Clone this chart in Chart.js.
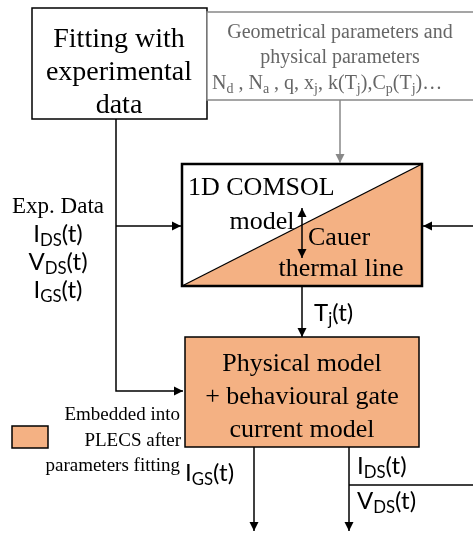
<!DOCTYPE html>
<html><head><meta charset="utf-8">
<script src="https://cdn.jsdelivr.net/npm/chart.js@4.4.1/dist/chart.umd.min.js"></script>
<style>html,body{margin:0;padding:0;background:#fff}#wrap{width:473px;height:533px}</style>
</head><body><div id="wrap"><canvas id="diagram"></canvas></div>
<script>
const ORANGE = "#F4B183";
// boxes: [x1, y1, x2, y2, fill, stroke]
const boxes = [
  [32, 8, 207, 119, "#fff", "#000"],
  [207, 12, 476, 100, "#fff", "#888"],
  [185, 337, 419, 447, ORANGE, "#000"],
  [12, 426, 48, 448, ORANGE, "#000"]
];
// arrows: list of points, last one gets the head; colour
const arrows = [
  [[340, 100], [340, 163], "#888"],
  [[473, 226], [423, 226], "#000"],
  [[116, 119], [116, 391], [183, 391], "#000"],
  [[116, 226], [181, 226], "#000"],
  [[302, 287], [302, 337], "#000"],
  [[254, 447], [254, 531], "#000"],
  [[349, 447], [349, 531], "#000"]
];
// texts: [x, y, segments, size, align, colour, font]   segment "_x" = subscript
const S = "serif", N = "sans";
const texts = [
  [119, 37, ["Fitting with"], 28, "center", "#000", S],
  [119, 70, ["experimental"], 28, "center", "#000", S],
  [119, 103, ["data"], 28, "center", "#000", S],
  [340, 31, ["Geometrical parameters and"], 20, "center", "#666", S],
  [340, 56, ["physical parameters"], 20, "center", "#666", S],
  [212, 82, ["N", "_d", " , N", "_a", " , q, x", "_j", ", k(T", "_j", "),C", "_p", "(T", "_j", ")…"], 20, "left", "#666", S],
  [188, 186, ["1D COMSOL"], 26, "left", "#000", S],
  [262, 220, ["model"], 26, "center", "#000", S],
  [308, 236, ["Cauer"], 26, "left", "#000", S],
  [341, 267, ["thermal line"], 26, "center", "#000", S],
  [58, 205, ["Exp. Data"], 23, "center", "#000", S],
  [58, 234, ["I", "_DS", "(t)"], 24, "center", "#000", N],
  [58, 262, ["V", "_DS", "(t)"], 24, "center", "#000", N],
  [58, 290, ["I", "_GS", "(t)"], 24, "center", "#000", N],
  [314, 313, ["T", "_j", "(t)"], 24, "left", "#000", N],
  [302, 362, ["Physical model"], 26, "center", "#000", S],
  [302, 395, ["+ behavioural gate"], 26, "center", "#000", S],
  [302, 428, ["current model"], 26, "center", "#000", S],
  [180, 413, ["Embedded into"], 19, "right", "#000", S],
  [181, 439, ["PLECS after"], 19, "right", "#000", S],
  [180, 464, ["parameters fitting"], 19, "right", "#000", S],
  [185, 473, ["I", "_GS", "(t)"], 24, "left", "#000", N],
  [357, 466, ["I", "_DS", "(t)"], 24, "left", "#000", N],
  [357, 501, ["V", "_DS", "(t)"], 24, "left", "#000", N]
];
const comsol = [182, 164, 422, 286];
const outLine = [[349, 485], [473, 485]];
const dblArrow = [302, 208, 258];

const FONTS = { serif: "'Liberation Serif','DejaVu Serif',serif", sans: "Lato,'Open Sans',sans-serif" };
function segW(ctx, segs, size, f) {
  let w = 0;
  for (const s of segs) {
    const sub = s[0] === "_";
    ctx.font = (sub ? size * 0.7 : size) + "px " + f;
    w += ctx.measureText(sub ? s.slice(1) : s).width;
  }
  return w;
}
const diagram = {
  id: "diagram",
  afterDraw(chart) {
    const ctx = chart.ctx, X = v => chart.scales.x.getPixelForValue(v), Y = v => chart.scales.y.getPixelForValue(v);
    ctx.save();
    const [a, b, c, d] = comsol;
    ctx.fillStyle = ORANGE;
    ctx.beginPath(); ctx.moveTo(X(a), Y(d)); ctx.lineTo(X(c), Y(b)); ctx.lineTo(X(c), Y(d)); ctx.closePath(); ctx.fill();
    ctx.strokeStyle = "#000"; ctx.lineWidth = 2.5;
    ctx.strokeRect(X(a), Y(b), X(c) - X(a), Y(d) - Y(b));
    ctx.lineWidth = 1.3;
    ctx.beginPath(); ctx.moveTo(X(a), Y(d)); ctx.lineTo(X(c), Y(b)); ctx.stroke();
    for (const [x1, y1, x2, y2, f, s] of boxes) {
      ctx.fillStyle = f; ctx.strokeStyle = s; ctx.lineWidth = 1.5;
      ctx.fillRect(X(x1), Y(y1), X(x2) - X(x1), Y(y2) - Y(y1));
      ctx.strokeRect(X(x1), Y(y1), X(x2) - X(x1), Y(y2) - Y(y1));
    }
    const head = (px, py, qx, qy, col) => {
      const ang = Math.atan2(qy - py, qx - px), L = 9, W = 4.5;
      ctx.fillStyle = col; ctx.beginPath();
      ctx.moveTo(qx, qy);
      ctx.lineTo(qx - L * Math.cos(ang) + W * Math.sin(ang), qy - L * Math.sin(ang) - W * Math.cos(ang));
      ctx.lineTo(qx - L * Math.cos(ang) - W * Math.sin(ang), qy - L * Math.sin(ang) + W * Math.cos(ang));
      ctx.closePath(); ctx.fill();
    };
    for (const arr of arrows) {
      const col = arr[arr.length - 1], pts = arr.slice(0, -1).map(p => [X(p[0]), Y(p[1])]);
      ctx.strokeStyle = col; ctx.lineWidth = 1.5; ctx.beginPath();
      pts.forEach((p, i) => i ? ctx.lineTo(p[0], p[1]) : ctx.moveTo(p[0], p[1]));
      const n = pts.length; ctx.stroke();
      head(pts[n - 2][0], pts[n - 2][1], pts[n - 1][0], pts[n - 1][1], col);
    }
    ctx.strokeStyle = "#000"; ctx.lineWidth = 1.5; ctx.beginPath();
    ctx.moveTo(X(outLine[0][0]), Y(outLine[0][1])); ctx.lineTo(X(outLine[1][0]), Y(outLine[1][1])); ctx.stroke();
    const [dx, d1, d2] = dblArrow;
    ctx.beginPath(); ctx.moveTo(X(dx), Y(d1)); ctx.lineTo(X(dx), Y(d2)); ctx.stroke();
    head(X(dx), Y(d2), X(dx), Y(d1), "#000"); head(X(dx), Y(d1), X(dx), Y(d2), "#000");
    ctx.textBaseline = "alphabetic";
    for (const [x, y, segs, size, align, col, fk] of texts) {
      const f = FONTS[fk], w = segW(ctx, segs, size, f);
      let px = X(x) - (align === "center" ? w / 2 : align === "right" ? w : 0);
      const py = Y(y) + size * 0.35;
      ctx.fillStyle = col; ctx.textAlign = "left";
      for (const s of segs) {
        const sub = s[0] === "_", t = sub ? s.slice(1) : s;
        ctx.font = (sub ? size * 0.7 : size) + "px " + f;
        ctx.fillText(t, px, py + (sub ? size * (fk === "sans" ? 0.15 : 0.2) : 0));
        px += ctx.measureText(t).width;
      }
    }
    ctx.restore();
  }
};
new Chart(document.getElementById("diagram"), {
  type: "scatter",
  data: { datasets: [{ data: [] }] },
  options: {
    responsive: true, maintainAspectRatio: false, animation: false,
    layout: { padding: 0 },
    plugins: { legend: { display: false }, tooltip: { enabled: false } },
    scales: {
      x: { type: "linear", min: 0, max: 473, display: false },
      y: { type: "linear", min: 0, max: 533, reverse: true, display: false }
    }
  },
  plugins: [diagram]
});
</script></body></html>
